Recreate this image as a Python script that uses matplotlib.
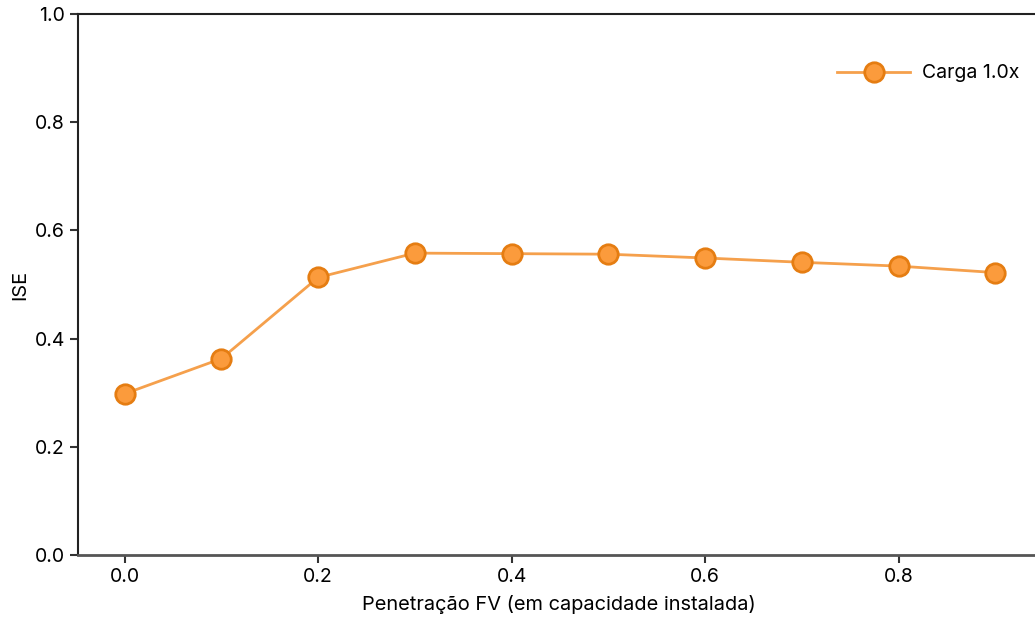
import matplotlib
matplotlib.use("Agg")
import matplotlib.pyplot as plt

plt.rcParams['font.family'] = ['Inter', 'DejaVu Sans']

penetracao = [0.0, 0.1, 0.2, 0.3, 0.4, 0.5, 0.6, 0.7, 0.8, 0.9]
ise = [0.298, 0.363, 0.513, 0.558, 0.557, 0.556, 0.549, 0.541, 0.534, 0.522]

fig = plt.figure(figsize=(10.35, 6.19), dpi=100)
ax = fig.add_axes([0.0756, 0.1034, 0.9282, 0.874])

ax.plot(penetracao, ise, marker='o', markersize=14, color='#f5a04c',
        markerfacecolor='#fb9b3c', markeredgecolor='#e57d12', markeredgewidth=2,
        linewidth=2, label='Carga 1.0x')

ax.set_ylim(0, 1.0)
ax.set_xlim(-0.048, 0.945)
ax.set_xticks([0.0, 0.2, 0.4, 0.6, 0.8])
ax.set_yticks([0.0, 0.2, 0.4, 0.6, 0.8, 1.0])
ax.tick_params(labelsize=14, length=6, width=1.5, color='#333333')
for s in ax.spines.values():
    s.set_linewidth(1.5)
    s.set_color('#222222')
ax.spines['bottom'].set_color('#555555')
ax.spines['bottom'].set_linewidth(2)
ax.set_xlabel('Penetração FV (em capacidade instalada)', fontsize=14.4, labelpad=6)
ax.set_ylabel('ISE', fontsize=14.4)

ax.legend(loc='upper right', bbox_to_anchor=(0.998, 0.939), frameon=False,
          fontsize=14, handlelength=3.8, handletextpad=0.6)

fig.savefig('out.png', dpi=100)
